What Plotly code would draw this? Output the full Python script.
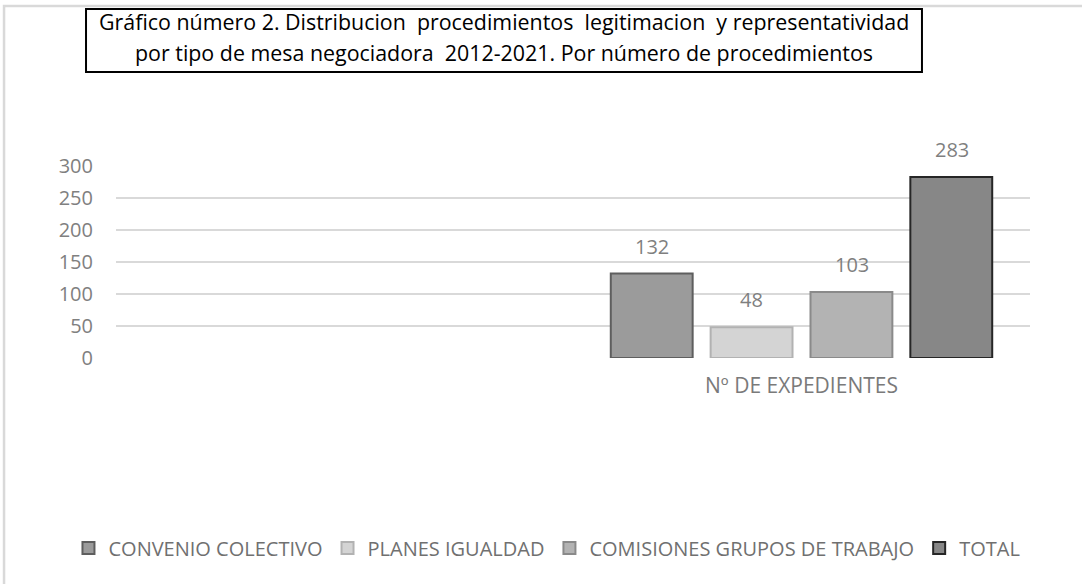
import plotly.graph_objects as go

category_labels = ["", "Nº DE EXPEDIENTES"]
series_names = ["CONVENIO COLECTIVO", "PLANES IGUALDAD", "COMISIONES GRUPOS DE TRABAJO", "TOTAL"]
series_values = [132, 48, 103, 283]
fill_colors = ["#9b9b9b", "#d4d4d4", "#b3b3b3", "#878787"]
line_colors = ["#5e5e5e", "#b2b2b2", "#8a8a8a", "#262626"]
y_ticks = [0, 50, 100, 150, 200, 250, 300]
title_lines = [
    "Gráfico número 2. Distribucion\u00a0 procedimientos\u00a0 legitimacion\u00a0 y representatividad",
    "por tipo de mesa negociadora\u00a0 2012-2021. Por número de procedimientos",
]

FONT = "Open Sans"
fig = go.Figure()
n = len(series_names)
for i, (name, val, fc, lc) in enumerate(zip(series_names, series_values, fill_colors, line_colors)):
    fig.add_trace(go.Bar(
        x=[1], y=[val], name=name,
        marker=dict(color=fc, line=dict(color=lc, width=2)),
    ))
    # data label above each bar
    fig.add_annotation(xref="x", yref="y", x=1, y=val, xshift=(i - (n - 1) / 2) * 100,
                       yshift=12, yanchor="bottom", showarrow=False, text=str(val),
                       font=dict(color="#7f7f7f", size=20, family=FONT))

fig.update_layout(
    width=1082, height=584,
    margin=dict(l=116, r=52, t=166, b=226, autoexpand=False),
    paper_bgcolor="white", plot_bgcolor="white",
    barmode="group", bargap=0.126, bargroupgap=0.18,
    font=dict(family=FONT, color="#808080", size=16),
    showlegend=True,
    legend=dict(orientation="h", xref="paper", yref="paper",
                x=-0.052, xanchor="left", y=(358 - 548) / 192, yanchor="middle",
                font=dict(size=20, color="#707070", family=FONT), itemwidth=30,
                traceorder="normal"),
    xaxis=dict(range=[-0.5, 1.5], tickvals=[0, 1], ticktext=category_labels,
               showgrid=False, zeroline=False, showline=False, ticks="",
               tickfont=dict(size=21, color="#7a7a7a"), ticklabelstandoff=13),
    yaxis=dict(range=[0, 300], tickvals=y_ticks, showgrid=True, gridcolor="#d9d9d9",
               gridwidth=1.5, zeroline=False, showline=False, ticks="",
               tickfont=dict(size=20, color="#808080"), ticklabelstandoff=22),
)

# outer chart border
fig.add_shape(type="rect", xref="paper", yref="paper", x0=-0.1225, x1=1.3, y0=-2.2, y1=1.833,
              line=dict(color="#d9d9d9", width=2.5), layer="below")
# title box
fig.add_shape(type="rect", xref="paper", yref="paper", x0=-0.0328, x1=0.8818, y0=1.49, y1=1.818,
              line=dict(color="#000000", width=2), fillcolor="white")
for line, ypix in zip(title_lines, [21, 52]):
    fig.add_annotation(xref="paper", yref="paper", x=0.4245, y=(358 - ypix) / 192,
                       xanchor="center", yanchor="middle", showarrow=False, text=line,
                       font=dict(size=21.4, color="#000000", family=FONT), align="center")

fig.write_html("out.html", config={"displayModeBar": False},
               post_script="document.body.style.margin='0';")
